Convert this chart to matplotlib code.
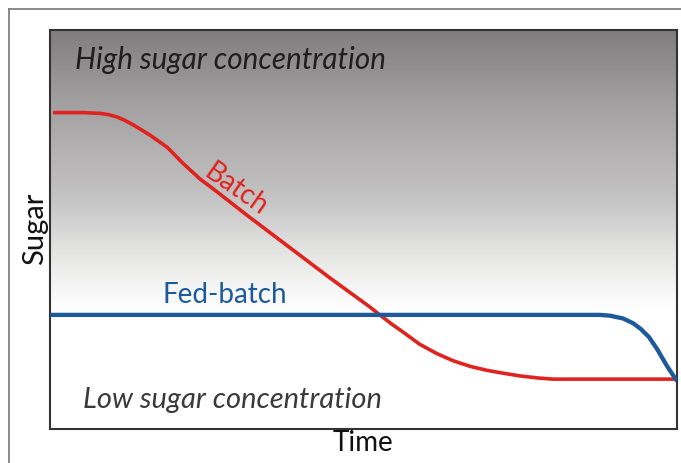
import numpy as np
import matplotlib
matplotlib.use('Agg')
import matplotlib.pyplot as plt
from matplotlib.colors import LinearSegmentedColormap
from matplotlib.lines import Line2D

# sugar vs time (axes run 0..10 both ways)
batch_t = [0.05, 0.53, 0.80, 0.93, 1.07, 1.20, 1.32, 1.59, 1.87, 2.12, 2.39,
           2.66, 2.92, 3.14, 3.83, 4.47, 5.10, 5.26, 5.45, 5.63, 5.90, 6.17,
           6.43, 6.70, 6.97, 7.22, 7.50, 7.77, 8.02, 10.0]
batch_s = [7.93, 7.93, 7.91, 7.88, 7.82, 7.73, 7.63, 7.37, 7.06, 6.66, 6.27,
           5.95, 5.63, 5.36, 4.54, 3.78, 3.06, 2.86, 2.63, 2.43, 2.12, 1.89,
           1.71, 1.57, 1.47, 1.40, 1.33, 1.28, 1.25, 1.25]
fed_t = [0.0, 8.77, 8.93, 9.14, 9.30, 9.42, 9.55, 9.68, 9.84, 10.0]
fed_s = [2.86, 2.86, 2.84, 2.77, 2.65, 2.51, 2.31, 2.01, 1.58, 1.20]

# background shading (fraction of height from bottom, colour)
shade = [(0.0, '#ffffff'), (0.298, '#ffffff'), (0.361, '#f4f4f4'),
         (0.449, '#e3e3e2'), (0.574, '#c6c5c6'), (0.70, '#b3b1b2'),
         (0.825, '#a19fa0'), (1.0, '#807e7f')]

fig = plt.figure(figsize=(6.81, 4.63), dpi=100)
fig.patch.set_facecolor('white')
ax = fig.add_axes([50 / 681, 34 / 463, 627 / 681, 399 / 463])

cmap = LinearSegmentedColormap.from_list('shade', shade)
grad = np.linspace(0, 1, 400).reshape(-1, 1)
ax.imshow(grad, cmap=cmap, origin='lower', extent=[0, 10, 0, 10],
          aspect='auto', zorder=0, vmin=0, vmax=1)

ax.plot(batch_t, batch_s, color='#e0231f', lw=2.6, solid_capstyle='butt',
        solid_joinstyle='round', zorder=3)
ax.plot(fed_t, fed_s, color='#1c5a9c', lw=3.1, solid_capstyle='butt',
        solid_joinstyle='round', zorder=3)

ax.set_xlim(0, 10)
ax.set_ylim(0, 10)
ax.set_xticks([])
ax.set_yticks([])
for sp in ax.spines.values():
    sp.set_color('#333333')
    sp.set_linewidth(1.5)

fnt = 'Lato'
ax.text(0.40, 9.25, 'High sugar concentration', style='italic', fontsize=21.3,
        family=fnt, color='#1e1e1e', ha='left', va='center')
ax.text(0.53, 0.73, 'Low sugar concentration', style='italic', fontsize=21,
        family=fnt, color='#3a3a3a', ha='left', va='center')
ax.text(1.80, 3.36, 'Fed-batch', fontsize=20, family=fnt, color='#1c5a9c',
        ha='left', va='center')
ax.text(2.97, 5.99, 'Batch', fontsize=20, family=fnt, color='#e0231f',
        ha='center', va='center', rotation=-35)

fig.text(35 / 681, 1 - 229 / 463, 'Sugar', rotation=90, fontsize=21,
         family=fnt, ha='center', va='center', color='#111111')
fig.text(363 / 681, 1 - 443 / 463, 'Time', fontsize=20, family=fnt,
         ha='center', va='center', color='#111111')

# outer frame of the figure
fig.add_artist(Line2D([9 / 681, 9 / 681], [0, 1 - 9 / 463], color='#777777',
                      lw=1.2, transform=fig.transFigure))
fig.add_artist(Line2D([9 / 681, 1], [1 - 9 / 463, 1 - 9 / 463], color='#777777',
                      lw=1.2, transform=fig.transFigure))

fig.savefig('out.png', dpi=100)
